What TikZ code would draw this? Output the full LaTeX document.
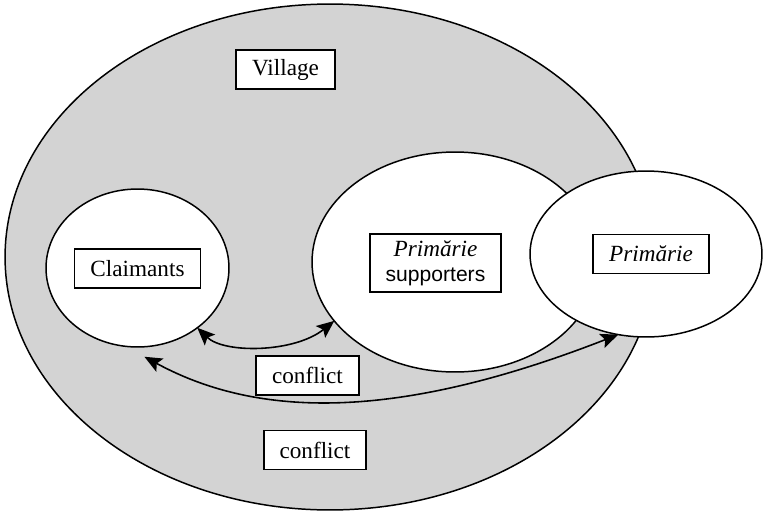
\documentclass[tikz,border=0pt]{standalone}
\usepackage{fontspec}
\setmainfont{Liberation Serif}
\newfontfamily\suppfont{Liberation Sans}
\usetikzlibrary{shapes.geometric,arrows.meta}
\definecolor{villagegray}{RGB}{211,211,211}
\tikzset{
	area/.style={ellipse, draw, line width=0.85pt, inner sep=0pt, outer sep=0pt},
	lbl/.style={draw, fill=white, line width=1.1pt, inner xsep=0.32cm, minimum height=0.78cm, font=\fontsize{13.2}{15.5}\selectfont},
	conflictarrow/.style={line width=0.9pt, {Stealth[length=10pt,width=8.5pt,inset=2pt]}-{Stealth[length=10pt,width=8.5pt,inset=2pt]}}
}
\begin{document}
\begin{tikzpicture}[x=0.02cm, y=-0.02cm]
\useasboundingbox (0,0) rectangle (763,514);
		\node[area, fill=villagegray, minimum width=13cm, minimum height=10.12cm] (village) at (330,257) {};
		\node[area, fill=white, minimum width=3.66cm, minimum height=3.16cm] (claim) at (137.5,268) {};
		\node[area, fill=white, minimum width=5.72cm, minimum height=4.4cm] (supp) at (455,262) {};
		\node[area, fill=white, minimum width=4.64cm, minimum height=3.32cm] (prim) at (646,254) {};

\coordinate (claimlow) at ([yshift=-0.2cm]claim.-85);
\draw[conflictarrow] (claim.-45) .. controls +(27,26) and +(-40,32) .. (supp.206);
\draw[conflictarrow] (claimlow) .. controls +(116,63) and +(-218,85) .. (prim.251);

\node[lbl] (villagelbl) at (285.5,69.5) {Village};
\node[lbl] (claimlbl) at (137.5,268.5) {Claimants};
\node[lbl, align=center, inner ysep=0.12cm] (supplbl) at (435.5,263) {\textit{Primărie}\\[-1pt]{\suppfont\fontsize{12}{14}\selectfont supporters}};
\node[lbl] (primlbl) at (651,254) {\textit{Primărie}};
\node[lbl] (conflictA) at (307.5,375.5) {conflict};
\node[lbl] (conflictB) at (315,450) {conflict};

\end{tikzpicture}
\end{document}
